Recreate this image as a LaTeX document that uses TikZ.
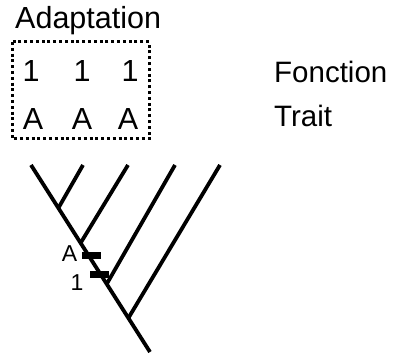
\documentclass[tikz,border=0pt]{standalone}
\usepackage{fontspec}
\setmainfont{Liberation Sans}
\begin{document}
\begin{tikzpicture}[x=1pt,y=-1pt,
  lbl/.style={inner sep=0pt,font=\fontsize{30.5}{32}\selectfont},
  side/.style={inner sep=0pt,font=\fontsize{29.5}{32}\selectfont,anchor=base west},
  small/.style={inner sep=0pt,font=\fontsize{23}{26}\selectfont,anchor=base},
  branch/.style={line width=3.8pt},
  bar/.style={fill=black,inner sep=0pt,minimum width=19pt,minimum height=7pt}]
\useasboundingbox (0,0) rectangle (398,355);

% title and the dotted group of character states
\node[lbl,anchor=base west] (title) at (15,28.5) {Adaptation};
\draw[line width=3pt,dash pattern=on 3pt off 2.8pt] (12.5,42) rectangle (149,139);
\node[lbl,anchor=base] (f1) at (31,82) {1};
\node[lbl,anchor=base] (f2) at (82,82) {1};
\node[lbl,anchor=base] (f3) at (130,82) {1};
\node[lbl,anchor=base] (t1) at (33,130) {A};
\node[lbl,anchor=base] (t2) at (82,130) {A};
\node[lbl,anchor=base] (t3) at (128,130) {A};

% row captions
\node[side] (fonction) at (274,83) {Fonction};
\node[side] (trait) at (274,127) {Trait};

% tree
\coordinate (root) at (150,352);
\coordinate (top) at (31,165);
\coordinate (j1) at (58.4,208);
\coordinate (j2) at (80.6,243);
\coordinate (j3) at (106.7,284);
\coordinate (j4) at (128.4,318);
\coordinate (tip1) at (83,165);
\coordinate (tip2) at (128,165);
\coordinate (tip3) at (175,165);
\coordinate (tip4) at (220,165);
\draw[branch] (root) -- (top);
\draw[branch] (j1) -- (tip1);
\draw[branch] (j2) -- (tip2);
\draw[branch] (j3) -- (tip3);
\draw[branch] (j4) -- (tip4);

% character changes on the stem
\node[bar] (barA) at (91,255) {};
\node[bar] (bar1) at (99.5,274) {};
\node[small] (labA) at (69.5,261) {A};
\node[small] (lab1) at (77,290) {1};
\end{tikzpicture}
\end{document}
